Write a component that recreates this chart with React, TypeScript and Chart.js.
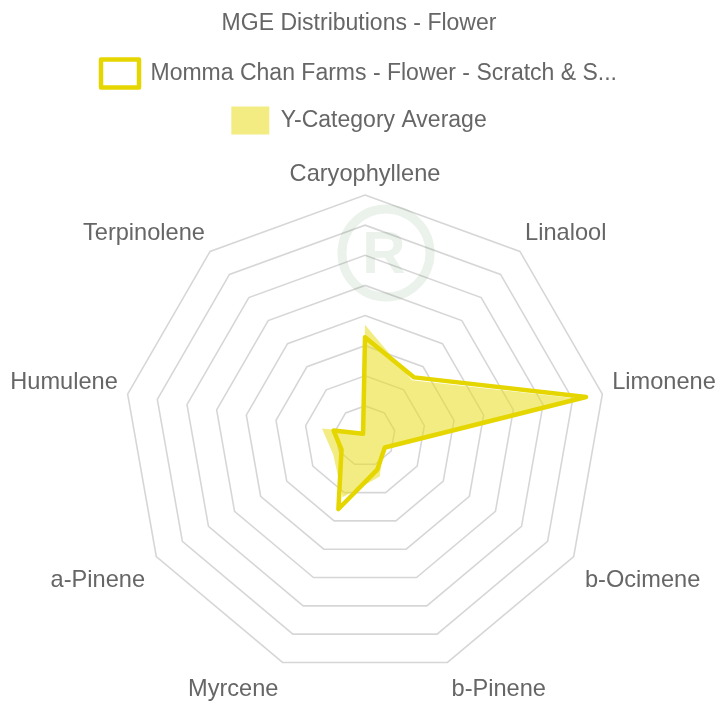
import React, { useEffect, useRef } from "react";
import { Chart, registerables } from "chart.js";

Chart.register(...registerables);

const labels = [
  "Caryophyllene",
  "Linalool",
  "Limonene",
  "b-Ocimene",
  "b-Pinene",
  "Myrcene",
  "a-Pinene",
  "Humulene",
  "Terpinolene",
];

const farmLabel = "Momma Chan Farms - Flower - Scratch & S...";
const farmValues = [3.28, 2.54, 7.45, 0.76, 1.19, 2.58, 0.9, 1.06, 0.1];

const avgLabel = "Y-Category Average";
const avgValues = [3.69, 2.42, 7.15, 0.72, 1.43, 2.16, 1.22, 1.45, 0.15];

const titleText = "MGE Distributions - Flower";

// layout of the radial scale (centre and radius in px)
const SCALE_CENTER_X = 365;
const SCALE_CENTER_Y = 436;
const SCALE_RADIUS = 241;
const LABEL_PADDING = [6, 8, 10, 13, 12, 12, 13, 10, 8];
const LABEL_DY = [0, 2, 4, 3, 2, 2, 3, 4, 2];

const watermark = {
  id: "watermark",
  beforeDraw(chart: any) {
    const ctx = chart.ctx;
    ctx.save();
    ctx.strokeStyle = "rgba(60,130,60,0.10)";
    ctx.fillStyle = "rgba(60,130,60,0.10)";
    ctx.lineWidth = 9;
    ctx.beginPath();
    ctx.arc(386, 253, 44, 0, Math.PI * 2);
    ctx.stroke();
    ctx.font = "bold 60px 'Liberation Sans', Arial, sans-serif";
    ctx.textAlign = "center";
    ctx.textBaseline = "middle";
    ctx.fillText("R", 384, 256);
    ctx.restore();
  },
};

export default function App() {
  const canvasRef = useRef<HTMLCanvasElement | null>(null);

  useEffect(() => {
    document.body.style.margin = "0";
    const canvas = canvasRef.current;
    if (!canvas) return;
    const family = "'Liberation Sans', Arial, sans-serif";
    const font = { family, size: 23 };
    const chart = new Chart(canvas, {
      type: "radar",
      data: {
        labels,
        datasets: [
          {
            label: farmLabel,
            data: farmValues,
            borderColor: "rgb(229,214,0)",
            backgroundColor: "rgba(255,255,255,0)",
            borderWidth: 4.5,
            borderJoinStyle: "round",
            fill: false,
            pointRadius: 0,
            pointHoverRadius: 0,
            tension: 0,
          },
          {
            label: avgLabel,
            data: avgValues,
            borderColor: "rgba(232,220,30,0)",
            backgroundColor: "rgba(232,220,30,0.55)",
            borderWidth: 0,
            fill: true,
            pointRadius: 0,
            pointHoverRadius: 0,
            tension: 0,
          },
        ],
      },
      plugins: [watermark],
      options: {
        animation: false,
        responsive: false,
        maintainAspectRatio: false,
        plugins: {
          title: {
            display: true,
            text: titleText,
            color: "#666",
            font: { ...font, weight: "normal" },
            padding: { top: 10, bottom: 3 },
          },
          legend: {
            display: true,
            labels: {
              color: "#666",
              font,
              boxWidth: 38,
              boxHeight: 28,
              padding: 19,
            },
          },
          tooltip: { enabled: false },
        },
        scales: {
          r: {
            min: 0,
            max: 8,
            ticks: { display: false, stepSize: 1 },
            grid: { color: "rgba(0,0,0,0.16)", lineWidth: 1.6 },
            angleLines: { display: false },
            pointLabels: {
              color: "#666",
              font: { family, size: 23.6 },
              padding: (ctx: any) => LABEL_PADDING[ctx.index] ?? 8,
            },
            afterFit: (scale: any) => {
              const dx = SCALE_CENTER_X - scale.xCenter;
              const dy = SCALE_CENTER_Y - scale.yCenter;
              const dr = SCALE_RADIUS - scale.drawingArea;
              const items = scale._pointLabelItems || [];
              items.forEach((it: any, i: number) => {
                const a = scale.getIndexAngle(i);
                const ox = dx + dr * Math.sin(a);
                const oy = dy - dr * Math.cos(a) + (LABEL_DY[i] || 0);
                it.x += ox;
                it.left += ox;
                it.right += ox;
                it.y += oy;
                it.top += oy;
                it.bottom += oy;
              });
              scale.xCenter = SCALE_CENTER_X;
              scale.yCenter = SCALE_CENTER_Y;
              scale.drawingArea = SCALE_RADIUS;
            },
          },
        },
      },
    });
    return () => chart.destroy();
  }, []);

  return (
    <div style={{ width: 718, height: 702, position: "relative" }}>
      <canvas ref={canvasRef} width={718} height={702} style={{ display: "block" }} />
    </div>
  );
}
